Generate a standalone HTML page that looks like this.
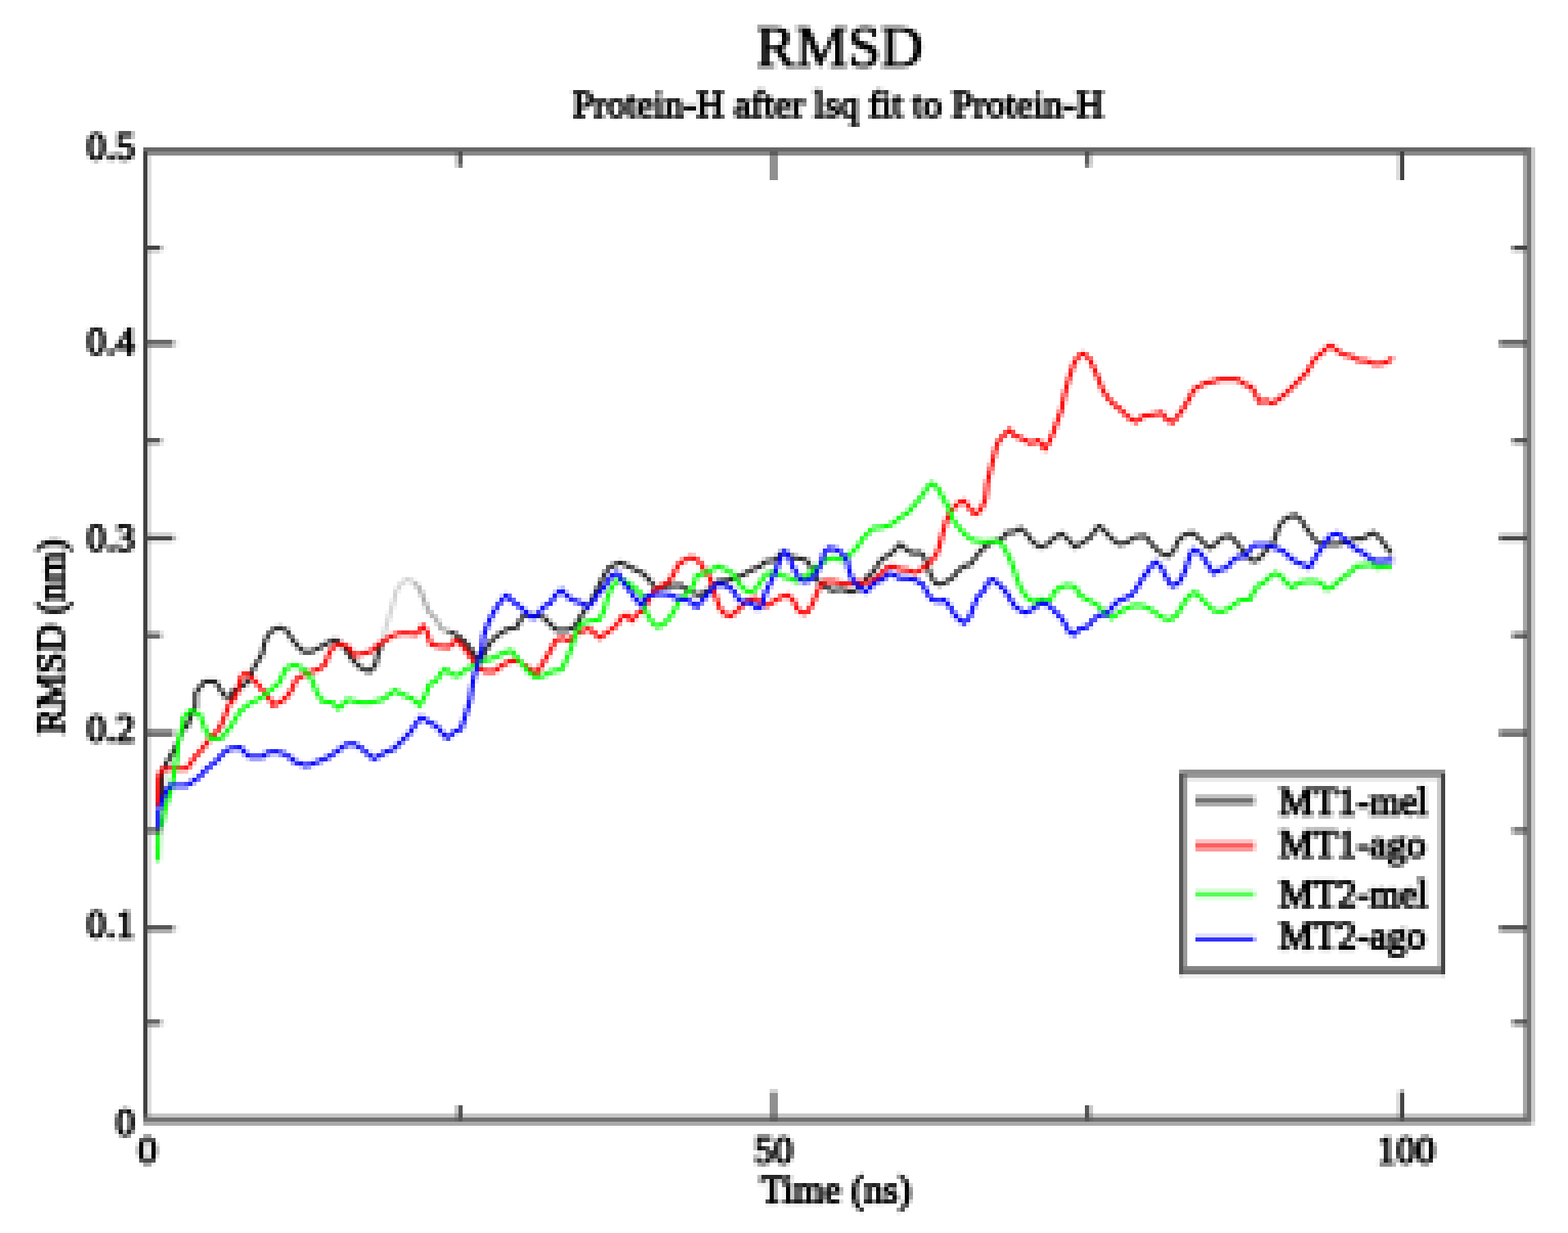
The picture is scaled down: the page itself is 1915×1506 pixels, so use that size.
<!DOCTYPE html>
<html lang="en"><head><meta charset="utf-8"><title>RMSD</title>
<style>
html,body{margin:0;padding:0;background:#fff;}
body{width:1915px;height:1506px;overflow:hidden;}
svg{display:block;}
text{font-family:"Liberation Serif","DejaVu Serif",serif;fill:#000;stroke:#000;stroke-width:2.4px;stroke-linejoin:round;}
.lab{font-size:47.5px;}
.ttl{font-size:72px;stroke-width:1.7px;}
.crv{fill:none;stroke-width:5.2;stroke-linejoin:round;stroke-linecap:butt;}
</style></head><body>
<svg width="1915" height="1506" viewBox="0 0 1915 1506">
<defs>
<filter id="px" x="0" y="0" width="1915" height="1506" filterUnits="userSpaceOnUse" primitiveUnits="userSpaceOnUse" color-interpolation-filters="sRGB">
<feConvolveMatrix in="SourceGraphic" order="5" kernelMatrix="1 1 1 1 1 1 1 1 1 1 1 1 1 1 1 1 1 1 1 1 1 1 1 1 1" divisor="25" edgeMode="duplicate" preserveAlpha="true" result="avg"/>
<feFlood x="2" y="2" width="1" height="1" flood-color="#000" result="dot"/>
<feComposite in="dot" in2="dot" operator="over" x="0" y="0" width="5" height="5" result="cell"/>
<feTile in="cell" x="0" y="0" width="1915" height="1506" result="grid"/>
<feComposite in="avg" in2="grid" operator="in" result="samp"/>
<feMorphology in="samp" operator="dilate" radius="2"/>
</filter>
</defs>
<g id="chart">
<rect x="0" y="0" width="1915" height="1506" fill="#ffffff"/>

<g id="titles">
<text class="ttl" x="1025.5" y="81" text-anchor="middle">RMSD</text>
<text class="lab" x="1023.5" y="142.5" text-anchor="middle" style="font-size:47px">Protein-H after lsq fit to Protein-H</text>
</g>
<g id="curves">
<path class="crv" stroke="#d2d2d2" d="M467.5,783.2 L471.2,766.4 L476.8,747.8 L482.4,729.3 L483,723.2 L490.5,712.1 L497.9,707.4 L507.2,712.1"/>
<path class="crv" stroke="#a8a8a8" d="M507.2,712.1 L513.7,721.4 L518.3,734.4 L523.9,747.4 L533.2,756.7 L538.8,767.8 L548.1,771.6"/>
<path class="crv" stroke="#222222" d="M193.4,984.7 L197.9,968.3 L197.9,943.1 L202.9,933 L207.9,924.2 L213,915.3 L218,905.2 L223.1,892.6 L228.1,885 L228.6,887.3 L233.2,874.3 L238.8,863.1 L238.8,846.4 L244.4,839 L250,832.4 L263,832.4 L268.5,840.8 L274.1,850.1 L281.6,852 L285.3,842.7 L292.7,840.8 L303.9,831.5 L309.5,816.6 L315,807.3 L320.6,798 L322.5,786.9 L326.2,777.6 L331.8,770.2 L341.1,766.4 L350.4,770.2 L355.9,779.5 L363.4,788.8 L370.8,796.2 L380.1,796.2 L389.4,791.5 L400.6,785 L409.9,781.3 L419.2,788.8 L430.3,805.5 L439.6,814.8 L450.8,820.4 L458.2,812.9 L461.9,798 L467.5,783.2"/>
<path class="crv" stroke="#222222" d="M548.1,771.6 L557.4,775.3 L568.5,784.6 L576,793.9 L581.6,803.2 L586.2,806.9 L594.6,792 L600.2,782.7 L607.6,776.2 L618.8,768.8 L631.8,766 L635.5,756.7 L641.1,751.1 L655.9,752 L665.2,754.8 L670.8,761.3 L680.1,769.7 L693.1,769.7 L702.4,765.1 L708,754.8 L711.7,749.3 L717.3,741.8 L722.9,732.5 L728.5,721.4 L732.2,713.9 L737.8,702.8 L743.3,693.5 L750.8,689.8 L758.2,687 L767.5,691.6 L776.8,696.3 L786.1,700.9 L793,708.3 L798.6,715.7 L804.2,718.5 L817.2,715.7 L832.1,714.8 L837.6,719.5 L843.2,723.2 L854.4,726.9 L861.8,723.2 L869.3,717.6 L876.7,710.2 L891.6,708.3 L906.4,702.7 L917.6,696.2 L928.8,691.6 L934.3,686 L947.3,684.1 L954.8,674.8 L960.4,674.8 L965.9,680.4 L977.1,682.3 L984.5,684.1 L990.1,691.6 L995.7,702.7 L999.4,710.2 L1006.8,715.7 L1016.1,721.3 L1027.3,719.5 L1040.3,723.2 L1047.8,719.5 L1055.2,710.2 L1060.8,702.7 L1066.3,699 L1071.9,689.7 L1077.5,682.3 L1084.9,678.5 L1090,674.8 L1099.3,664.6 L1106.7,671.1 L1114.2,675.8 L1123.5,674.8 L1129,680.4 L1132.8,691.6 L1136.5,702.7 L1142.1,712 L1147.6,713.9 L1156.9,710.2 L1164.4,704.6 L1170,697.1 L1177.4,691.6 L1184.8,689.7 L1190.4,682.3 L1196,674.8 L1203.4,667.4 L1212.7,661.8 L1223.9,658.1 L1229.5,650.7 L1238.8,649.7 L1246.2,645.1 L1253.6,651.6 L1261.1,661.8 L1270.4,668.3 L1279.7,664.6 L1287.1,657.2 L1296.4,651.6 L1303.8,658.1 L1313.1,668.3 L1322.4,662.7 L1331.7,656.2 L1339.2,645.1 L1342.9,642.3 L1350.3,649.7 L1357.8,658.1 L1367,664.6 L1376.3,662.7 L1385.6,656.2 L1396.8,654.4 L1400,656.2 L1407.4,665.5 L1416.7,674.8 L1426,679.5 L1433.5,673 L1439,660 L1446.5,653.4 L1455.8,650.7 L1463.2,656.2 L1472.5,665.5 L1478.1,669.3 L1485.5,663.7 L1493,656.2 L1502.3,654.4 L1507.8,660 L1515.3,669.3 L1520.9,676.7 L1528.3,684.1 L1533.9,685.1 L1541.3,678.5 L1546.9,671.1 L1554.3,665.5 L1558,654.4 L1561.8,643.2 L1567.3,635.8 L1574.8,631.1 L1582.2,629.3 L1589.7,635.8 L1595.2,645.1 L1600.8,652.5 L1606.4,660 L1613.8,664.6 L1623.1,664.6 L1634.3,664.6 L1645.4,661.8 L1654.7,658.1 L1664,658.1 L1671.5,653.4 L1677,650.7 L1684.5,656.2 L1690.1,663.7 L1695.6,671.1 L1699.4,676.7"/>
<path class="crv" stroke="#ff0000" d="M192.8,984.7 L193.4,949.4 L197.9,939.3 L210.5,938.7 L228.1,938.7 L233.2,931.7 L238.2,924.2 L243.3,919.1 L248.3,912.8 L253.4,906.5 L258.4,898.9 L264.7,893.9 L269.8,886.3 L276,871.1 L279.7,860 L285.3,854.4 L289.9,845.1 L294.6,826.5 L300.2,821.8 L305.7,826.5 L313.2,833.9 L320.6,843.2 L329.9,854.4 L333.6,861.8 L344.8,856.2 L350.4,850.7 L355.9,843.2 L361.5,830.2 L367.1,826.5 L376.4,821.8 L389.4,817.2 L396.8,811.6 L402.4,796.7 L408,789.3 L417.3,786.5 L426.6,791.2 L432.2,800.5 L445.2,797.7 L454.5,794.9 L461.9,787.4 L471.2,781.9 L477.4,777.1 L488.6,773.4 L497.9,773.4 L509,774.4 L516.5,764.1 L522.1,773.4 L525.8,786.4 L535.1,789.2 L548.1,790.2 L557.4,781.8 L563,786.4 L570.4,795.7 L577.8,806.9 L585.3,816.2 L592.7,819.9 L603.9,819.9 L613.2,812.5 L624.3,806.9 L633.6,807.8 L641.1,812.5 L648.5,818 L655.9,821.8 L661.5,812.5 L667.1,803.2 L672.7,793.9 L678.3,782.7 L685.7,779 L695,782.7 L702.4,775.3 L711.7,770.6 L719.2,767.8 L728.5,775.3 L732.2,779 L743.3,771.6 L752.6,764.1 L760.1,753 L765.6,751.1 L771.2,758.5 L778.7,749.3 L786.1,745.5 L791.2,734.3 L798.6,721.3 L817.2,710.2 L822.8,700.9 L828.3,689.7 L835.8,684.1 L845.1,680.4 L854.4,686 L860,695.3 L867.4,706.4 L871.1,719.5 L874.8,730.6 L878.5,741.8 L884.1,749.2 L891.6,752.9 L899,747.3 L906.4,739.9 L913.9,732.5 L923.2,730.6 L930.6,738 L936.2,739.9 L945.5,734.3 L954.8,728.8 L962.2,726.9 L969.7,734.3 L973.4,743.6 L980.8,749.2 L986.4,747.3 L992,738 L997.5,725 L1001.3,715.7 L1006.8,710.2 L1018,710.2 L1027.3,712 L1036.6,713.9 L1045.9,710.2 L1053.3,712 L1062.6,710.2 L1070.1,706.4 L1077.5,699 L1083.1,693.4 L1090.5,691.6 L1099.3,695.3 L1108.6,696.2 L1117.9,699.9 L1125.3,695.3 L1132.8,689.7 L1138.3,684.1 L1143.9,676.7 L1147.6,665.5 L1151.4,650.7 L1155.1,637.6 L1158.8,628.3 L1164.4,620.9 L1171.8,613.5 L1177.4,611.6 L1183,619 L1190.4,628.3 L1197.8,622.8 L1203.4,609.8 L1205.3,594.9 L1205.3,591.5 L1209,576.6 L1212.7,561.8 L1216.4,546.9 L1220.2,537.6 L1227.6,530.2 L1233.2,524.6 L1238.8,532 L1248,535.7 L1259.2,541.3 L1268.5,537.6 L1275.9,548.8 L1281.5,539.5 L1287.1,526.4 L1290.8,515.3 L1296.4,500.4 L1300.1,481.8 L1305.7,461.4 L1311.3,444.6 L1316.8,435.3 L1322.4,431.6 L1329.9,437.2 L1335.4,448.3 L1341,461.4 L1346.6,476.2 L1354,487.4 L1361.5,494.8 L1368.9,500.4 L1378.2,509.7 L1387.5,515.3 L1396.8,507.8 L1400,507.8 L1411.2,506 L1418.6,504.1 L1424.2,511.6 L1431.6,516.2 L1439,507.8 L1446.5,496.7 L1452.1,487.4 L1457.6,476.2 L1463.2,472.5 L1472.5,467.9 L1481.8,466 L1489.3,463.2 L1500.4,463.2 L1511.6,463.2 L1519,468.8 L1528.3,472.5 L1533.9,481.8 L1537.6,491.1 L1546.9,489.3 L1554.3,493 L1561.8,487.4 L1571.1,480 L1578.5,472.5 L1585.9,465.1 L1595.2,455.8 L1600.8,446.5 L1606.4,437.2 L1613.8,431.6 L1621.3,424.2 L1625,421.4 L1632.4,427.9 L1641.7,433.5 L1651,435.3 L1658.5,440 L1669.6,440.9 L1678.9,444.6 L1690.1,443.7 L1697.5,440 L1701.2,437.2"/>
<path class="crv" stroke="#00ff00" d="M192.8,1051.6 L193.4,1018.8 L197.9,1006.2 L201.6,987.3 L207.9,968.3 L213,943.1 L215.5,927.9 L218,905.2 L223.1,886.3 L223.9,876.7 L233.2,867.4 L244.4,873 L250,889.7 L257.4,902.7 L270.4,901.8 L281.6,887.8 L292.7,869.3 L303.9,860 L318.8,852.5 L329.9,843.2 L341.1,833.9 L348.5,817.2 L359.7,811.6 L370.8,817.2 L380.1,828.3 L385.7,843.2 L393.1,856.2 L406.1,858.1 L413.6,865.5 L424.7,854.4 L439.6,858.1 L452.6,858.1 L467.5,854.4 L482.4,843.2 L492.3,848.7 L503.5,853.4 L512.8,861.7 L520.2,847.8 L523.9,836.6 L533.2,831.1 L538.8,821.8 L544.4,817.1 L551.8,823.6 L559.3,825.5 L568.5,818 L577.8,813.4 L590.9,806.9 L603.9,803.2 L615,797.6 L624.3,794.8 L629.9,801.3 L637.3,810.6 L644.8,819.9 L654.1,827.3 L663.4,825.5 L674.5,819.9 L685.7,818 L691.3,806.9 L696.8,793.9 L700.6,782.7 L704.3,771.6 L709.9,761.3 L721,758.5 L732.2,756.7 L737.8,745.5 L741.5,730.7 L747,717.6 L752.6,710.2 L758.2,707.4 L767.5,712.1 L776.8,719.5 L786.1,728.8 L787.4,743.6 L793,754.8 L798.6,762.2 L804.2,765.9 L811.6,761.3 L819,752.9 L824.6,743.6 L828.3,736.2 L835.8,726.9 L843.2,721.3 L848.8,710.2 L850.7,702.7 L858.1,700.9 L867.4,697.1 L876.7,691.6 L886,695.3 L895.3,700.9 L900.9,710.2 L906.4,717.6 L913.9,723.2 L921.3,721.3 L926.9,713.9 L930.6,708.3 L936.2,700.9 L943.6,699 L951.1,700.9 L958.5,704.6 L965.9,706.4 L971.5,710.2 L979,706.4 L986.4,702.7 L993.8,695.3 L1001.3,689.7 L1008.7,684.1 L1018,681.3 L1027.3,684.1 L1034.7,681.3 L1040.3,674.8 L1047.8,667.4 L1053.3,658.1 L1058.9,652.5 L1066.3,645.1 L1077.5,644.1 L1086.8,641.4 L1090,639.5 L1099.3,632.1 L1108.6,626.5 L1117.9,615.3 L1127.2,604.2 L1132.8,594.9 L1138.3,590.2 L1145.8,596.7 L1151.4,607.9 L1158.8,620.9 L1164.4,635.8 L1171.8,645.1 L1179.3,653.4 L1188.5,660 L1201.6,661.8 L1216.4,660.9 L1223.9,664.6 L1229.5,674.8 L1235,686 L1238.8,697.1 L1242.5,708.3 L1246.2,717.6 L1251.8,726.9 L1257.3,732.5 L1264.8,735.3 L1270.4,731.5 L1275.9,733.4 L1283.4,732.5 L1287.1,723.2 L1294.5,717.6 L1303.8,714.8 L1313.1,716.7 L1318.7,726.9 L1328,732.5 L1339.2,738 L1346.6,745.5 L1352.2,751.1 L1357.8,754.8 L1365.2,749.2 L1374.5,743.6 L1383.8,739.9 L1394.9,739.9 L1400,741.8 L1407.4,745.5 L1414.9,751.1 L1422.3,755.7 L1429.8,756.6 L1437.2,751.1 L1442.8,741.8 L1448.3,732.5 L1453.9,726.9 L1459.5,723.2 L1466.9,730.6 L1474.4,738 L1481.8,745.5 L1491.1,747.3 L1500.4,743.6 L1507.8,738 L1515.3,732.5 L1526.4,732.5 L1530.2,725 L1535.7,715.7 L1543.2,712 L1550.6,704.6 L1558,699.9 L1565.5,704.6 L1571.1,712 L1578.5,717.6 L1585.9,712 L1595.2,710.2 L1606.4,710.2 L1613.8,712 L1619.4,719.5 L1626.8,717.6 L1634.3,710.2 L1641.7,704.6 L1649.2,699 L1656.6,691.6 L1665.9,690.6 L1675.2,689.7 L1682.6,693.4 L1691.9,691.6 L1699.4,693.4"/>
<path class="crv" stroke="#0000ff" d="M193.4,1012.5 L193.4,991 L197.9,978.4 L202.9,965.8 L207.9,959.5 L228.1,959.5 L235.7,954.4 L244.5,948.1 L249.6,941.8 L258.4,934.3 L264.7,929.2 L269.8,922.9 L274.8,917.9 L281.1,914.1 L293.8,912.8 L298.8,919.1 L305.1,924.2 L321.5,924.2 L326.6,919.1 L336.7,917.9 L346.8,920.4 L356.8,926.7 L359.7,930.6 L374.5,935.3 L387.5,930.6 L400.6,925 L411.7,917.6 L422.9,909.2 L432.2,908.3 L441.5,913.9 L456.3,926.9 L471.2,918.5 L481.2,914.7 L490.5,905.4 L499.8,896.1 L507.2,885 L514.6,875.7 L523.9,882.2 L533.2,886.8 L540.7,896.1 L546.2,901.7 L555.5,893.4 L563,890.6 L568.5,873.8 L574.1,855.2 L576.9,836.6 L579.7,823.6 L583.4,812.5 L589,790.2 L590.9,775.3 L596.4,760.4 L602,749.3 L607.6,740 L615,730.7 L618.8,726.9 L626.2,734.4 L633.6,740 L641.1,746.5 L650.4,754.8 L657.8,749.3 L663.4,741.8 L672.7,736.2 L678.3,726.9 L685.7,720.4 L693.1,728.8 L700.6,733.4 L709.9,736.2 L717.3,741.8 L724.7,734.4 L730.3,725.1 L737.8,717.6 L743.3,708.3 L748.9,701.8 L754.5,700 L761.9,712.1 L769.4,721.4 L776.8,732.5 L784.2,740 L787.4,730.6 L794.9,726.9 L804.2,725 L817.2,726 L826.5,730.6 L835.8,732.5 L843.2,734.3 L850.7,741.8 L858.1,732.5 L863.7,726.9 L869.3,719.5 L874.8,713.9 L884.1,713.9 L891.6,717.6 L897.1,723.2 L900.9,730.6 L906.4,735.3 L917.6,736.2 L925,743.6 L930.6,739.9 L934.3,725 L939.9,713.9 L943.6,706.4 L947.3,697.1 L951.1,687.8 L954.8,678.5 L958.5,673 L964.1,680.4 L967.8,691.6 L973.4,700.9 L977.1,708.3 L984.5,710.2 L992,706.4 L997.5,699 L1003.1,687.8 L1006.8,674.8 L1012.4,669.3 L1021.7,671.1 L1029.2,676.7 L1034.7,684.1 L1036.6,695.3 L1040.3,706.4 L1045.9,713.9 L1051.5,717.6 L1057,723.2 L1062.6,717.6 L1070.1,710.2 L1077.5,708.3 L1084.9,700.9 L1090,700.9 L1099.3,706.4 L1108.6,706.4 L1117.9,708.3 L1127.2,713.9 L1132.8,725 L1138.3,732.5 L1145.8,734.3 L1153.2,732.5 L1160.7,741.8 L1166.2,751.1 L1171.8,756.6 L1177.4,761.3 L1184.8,752.9 L1188.5,741.8 L1194.1,728.8 L1201.6,721.3 L1207.1,710.2 L1212.7,707.4 L1220.2,713.9 L1227.6,721.3 L1233.2,730.6 L1238.8,739.9 L1246.2,745.5 L1251.8,748.3 L1259.2,745.5 L1266.6,739.9 L1274.1,736.2 L1281.5,739.9 L1289,747.3 L1296.4,754.8 L1302,764.1 L1305.7,771.5 L1311.3,775.2 L1318.7,767.8 L1328,765.9 L1335.4,756.6 L1342.9,751.1 L1352.2,750.1 L1357.8,741.8 L1365.2,734.3 L1374.5,730.6 L1381.9,726.9 L1387.5,719.5 L1393.1,710.2 L1398.7,700.9 L1400,700.9 L1405.6,691.6 L1411.2,686 L1418.6,693.4 L1424.2,704.6 L1429.8,713.9 L1433.5,715.7 L1440.9,710.2 L1446.5,699 L1450.2,687.8 L1453.9,676.7 L1457.6,671.1 L1465.1,674.8 L1470.7,682.3 L1476.2,691.6 L1481.8,699.9 L1491.1,695.3 L1498.5,693.4 L1504.1,686 L1511.6,680.4 L1520.9,679.5 L1526.4,671.1 L1532,665.5 L1541.3,665.5 L1548.8,665.5 L1558,669.3 L1567.3,673 L1574.8,680.4 L1582.2,686 L1591.5,689.7 L1599,693.4 L1604.5,684.1 L1610.1,674.8 L1615.7,667.4 L1621.3,658.1 L1626.8,653.4 L1634.3,651.6 L1641.7,658.1 L1649.2,665.5 L1656.6,671.1 L1664,674.8 L1671.5,680.4 L1678.9,685.1 L1688.2,685.1 L1697.5,684.1 L1701.2,686"/>
</g>
<g id="frame">
<rect x="175" y="180" width="5" height="1193" fill="#404040"/>
<rect x="180" y="190" width="5" height="1173" fill="#dddddd"/>
<rect x="175" y="180" width="1697" height="5" fill="#666666"/>
<rect x="180" y="185" width="1692" height="5" fill="#888888"/>
<rect x="175" y="1363" width="1697" height="10" fill="#707070"/>
<rect x="1862" y="180" width="5" height="1193" fill="#6a6a6a"/>
<rect x="1867" y="180" width="5" height="1193" fill="#7a7a7a"/>
<rect x="558.6" y="185" width="5.8" height="19" fill="#484848"/>
<rect x="558.6" y="1350" width="5.8" height="18" fill="#404040"/>
<rect x="1325.6" y="185" width="5.8" height="19" fill="#484848"/>
<rect x="1325.6" y="1350" width="5.8" height="18" fill="#404040"/>
<rect x="942.1" y="185" width="5.8" height="35" fill="#404040"/>
<rect x="942.1" y="1333" width="5.8" height="35" fill="#404040"/>
<rect x="1709.1" y="185" width="5.8" height="35" fill="#404040"/>
<rect x="1709.1" y="1333" width="5.8" height="35" fill="#404040"/>
<rect x="177" y="1246" width="19" height="6" fill="#444"/>
<rect x="196" y="1246" width="5" height="6" fill="#dddddd"/>
<rect x="1847" y="1246" width="18" height="6" fill="#444"/>
<rect x="177" y="1130.4" width="34" height="6.8" fill="#484848"/>
<rect x="211" y="1130.4" width="5" height="6.8" fill="#cccccc"/>
<rect x="1831" y="1130.4" width="34" height="6.8" fill="#484848"/>
<rect x="177" y="1011.5" width="19" height="6" fill="#444"/>
<rect x="196" y="1011.5" width="5" height="6" fill="#dddddd"/>
<rect x="1847" y="1011.5" width="18" height="6" fill="#444"/>
<rect x="177" y="892" width="34" height="6.8" fill="#484848"/>
<rect x="211" y="892" width="5" height="6.8" fill="#cccccc"/>
<rect x="1831" y="892" width="34" height="6.8" fill="#484848"/>
<rect x="177" y="773" width="19" height="6" fill="#444"/>
<rect x="196" y="773" width="5" height="6" fill="#dddddd"/>
<rect x="1847" y="773" width="18" height="6" fill="#444"/>
<rect x="177" y="653.8" width="34" height="6.8" fill="#484848"/>
<rect x="211" y="653.8" width="5" height="6.8" fill="#cccccc"/>
<rect x="1831" y="653.8" width="34" height="6.8" fill="#484848"/>
<rect x="177" y="535.5" width="19" height="6" fill="#444"/>
<rect x="196" y="535.5" width="5" height="6" fill="#dddddd"/>
<rect x="1847" y="535.5" width="18" height="6" fill="#444"/>
<rect x="177" y="415.9" width="34" height="6.8" fill="#484848"/>
<rect x="211" y="415.9" width="5" height="6.8" fill="#cccccc"/>
<rect x="1831" y="415.9" width="34" height="6.8" fill="#484848"/>
<rect x="177" y="300" width="19" height="6" fill="#444"/>
<rect x="196" y="300" width="5" height="6" fill="#dddddd"/>
<rect x="1847" y="300" width="18" height="6" fill="#444"/>
</g>
<g id="ticklabels" class="lab">
<text x="165" y="1386.8" text-anchor="end">0</text>
<text x="165" y="1144.5" text-anchor="end">0.1</text>
<text x="165" y="906.2" text-anchor="end">0.2</text>
<text x="165" y="672.8" text-anchor="end">0.3</text>
<text x="165" y="432.8" text-anchor="end">0.4</text>
<text x="165" y="194.5" text-anchor="end">0.5</text>
<text x="180.0" y="1421" text-anchor="middle">0</text>
<text x="945.0" y="1421" text-anchor="middle">50</text>
<text x="1717.0" y="1421" text-anchor="middle">100</text>
</g>
<g id="axislabels" class="lab">
<text x="1021" y="1469" text-anchor="middle">Time (ns)</text>
<text transform="translate(77.5,777.5) rotate(-90)" text-anchor="middle">RMSD (nm)</text>
</g>
<g id="legend">
<rect x="1440" y="942" width="325" height="248.5" fill="#ffffff"/>
<rect x="1440" y="942" width="325" height="5" fill="#444"/>
<rect x="1445" y="947" width="315" height="5" fill="#cccccc"/>
<rect x="1440" y="1180.5" width="325" height="5" fill="#777"/>
<rect x="1440" y="1185.5" width="325" height="5" fill="#666"/>
<rect x="1440" y="942" width="5" height="248.5" fill="#555"/>
<rect x="1445" y="947" width="5" height="233.5" fill="#999"/>
<rect x="1755" y="947" width="5" height="233.5" fill="#cccccc"/>
<rect x="1760" y="942" width="5" height="248.5" fill="#444"/>
<rect x="1460" y="972" width="72" height="5" fill="#999"/>
<rect x="1460" y="977" width="72" height="5.5" fill="#555"/>
<rect x="1460" y="1028" width="72" height="5" fill="#ff6666"/>
<rect x="1460" y="1033" width="72" height="5" fill="#ff5555"/>
<rect x="1460" y="1089" width="72" height="5" fill="#33ff33"/>
<rect x="1460" y="1094" width="72" height="5" fill="#e0ffe0"/>
<rect x="1460" y="1140" width="72" height="5" fill="#e0e0ff"/>
<rect x="1460" y="1145" width="72" height="5" fill="#3333ff"/>
<g class="lab">
<text x="1562" y="995">MT1-mel</text>
<text x="1562" y="1046.5">MT1-ago</text>
<text x="1562" y="1108">MT2-mel</text>
<text x="1562" y="1159">MT2-ago</text>
</g></g>
</g>
<use href="#chart" x="0" y="0" filter="url(#px)"/>
</svg>
</body></html>
